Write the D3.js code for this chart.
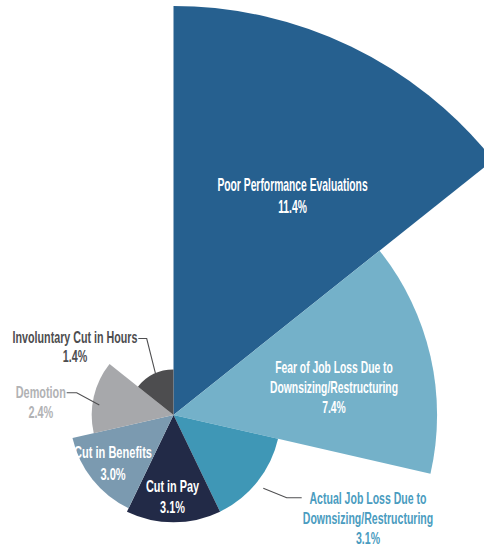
<!DOCTYPE html>
<html>
<head>
<meta charset="utf-8">
<script src="https://cdn.jsdelivr.net/npm/d3@7"></script>
<style>
  html, body { margin: 0; padding: 0; background: #fff; }
  svg { display: block; }
  text { font-family: "Liberation Sans", Arial, sans-serif; font-weight: bold; }
</style>
</head>
<body>
<script>
// ---- data ----
const categories = [
  "Poor Performance Evaluations",
  "Fear of Job Loss Due to Downsizing/Restructuring",
  "Actual Job Loss Due to Downsizing/Restructuring",
  "Cut in Pay",
  "Cut in Benefits",
  "Demotion",
  "Involuntary Cut in Hours"
];
const values = [11.4, 7.4, 3.1, 3.1, 3.0, 2.4, 1.4];
const labelLines = [
  ["Poor Performance Evaluations"],
  ["Fear of Job Loss Due to", "Downsizing/Restructuring"],
  ["Actual Job Loss Due to", "Downsizing/Restructuring"],
  ["Cut in Pay"],
  ["Cut in Benefits"],
  ["Demotion"],
  ["Involuntary Cut in Hours"]
];
const colors = ["#26608f", "#74b1c9", "#3f97b6", "#222a47", "#7b9ab0", "#a7a8ab", "#4d4d4f"];
const labelColors = ["#ffffff", "#ffffff", "#4a9cc0", "#ffffff", "#ffffff", "#b1b2b4", "#4d4d4f"];

// ---- layout ----
const W = 484, H = 548;
const cx = 173.5, cy = 415;
const labelPos = [
  {x: 292.5, y: 191, lh: 22.3, fs: 17.5, sx: 0.59},
  {x: 334, y: 372.5, lh: 20.2, fs: 16.8, sx: 0.615},
  {x: 368, y: 504, lh: 20, fs: 17, sx: 0.62},
  {x: 172.5, y: 491.7, lh: 21, fs: 17, sx: 0.64},
  {x: 113, y: 458.3, lh: 21.7, fs: 17, sx: 0.65},
  {x: 40.8, y: 397.7, lh: 20.6, fs: 17, sx: 0.64},
  {x: 75, y: 343, lh: 19.5, fs: 17, sx: 0.63}
];
const leaders = [
  null, null,
  [[263.3, 488.3], [286.7, 497.7], [301.7, 497.7]],
  null, null,
  [[66.7, 392.7], [76.7, 392.7], [99.3, 405]],
  [[138.3, 338.5], [146.7, 338.5], [156.7, 378.3]]
];

const svg = d3.select("body").append("svg").attr("width", W).attr("height", H);

const r = d3.scaleLinear().domain([0.15, 11.4]).range([0, 409]);
const angle = d3.scaleBand().domain(categories).range([0, 2 * Math.PI]).padding(0);

const arc = d3.arc()
  .innerRadius(0)
  .outerRadius((d, i) => r(values[i]))
  .startAngle(d => angle(d))
  .endAngle(d => angle(d) + angle.bandwidth());

const g = svg.append("g").attr("transform", `translate(${cx},${cy})`);
g.selectAll("path").data(categories).join("path")
  .attr("d", arc)
  .attr("fill", (d, i) => colors[i]);

// leader lines
svg.selectAll("polyline.leader").data(leaders.filter(l => l)).join("polyline")
  .attr("class", "leader")
  .attr("points", d => d.map(p => p.join(",")).join(" "))
  .attr("fill", "none")
  .attr("stroke", "#4f4f51")
  .attr("stroke-width", 1.1);

const fmt = d3.format(".1f");
categories.forEach((c, i) => {
  const p = labelPos[i];
  const lines = labelLines[i].concat([fmt(values[i]) + "%"]);
  const lg = svg.append("g").attr("transform", `translate(${p.x},${p.y}) scale(${p.sx},1)`);
  lg.selectAll("text").data(lines).join("text")
    .attr("x", 0)
    .attr("y", (d, j) => j * p.lh)
    .attr("text-anchor", "middle")
    .attr("font-size", p.fs)
    .attr("fill", labelColors[i])
    .text(d => d);
});
</script>
</body>
</html>
